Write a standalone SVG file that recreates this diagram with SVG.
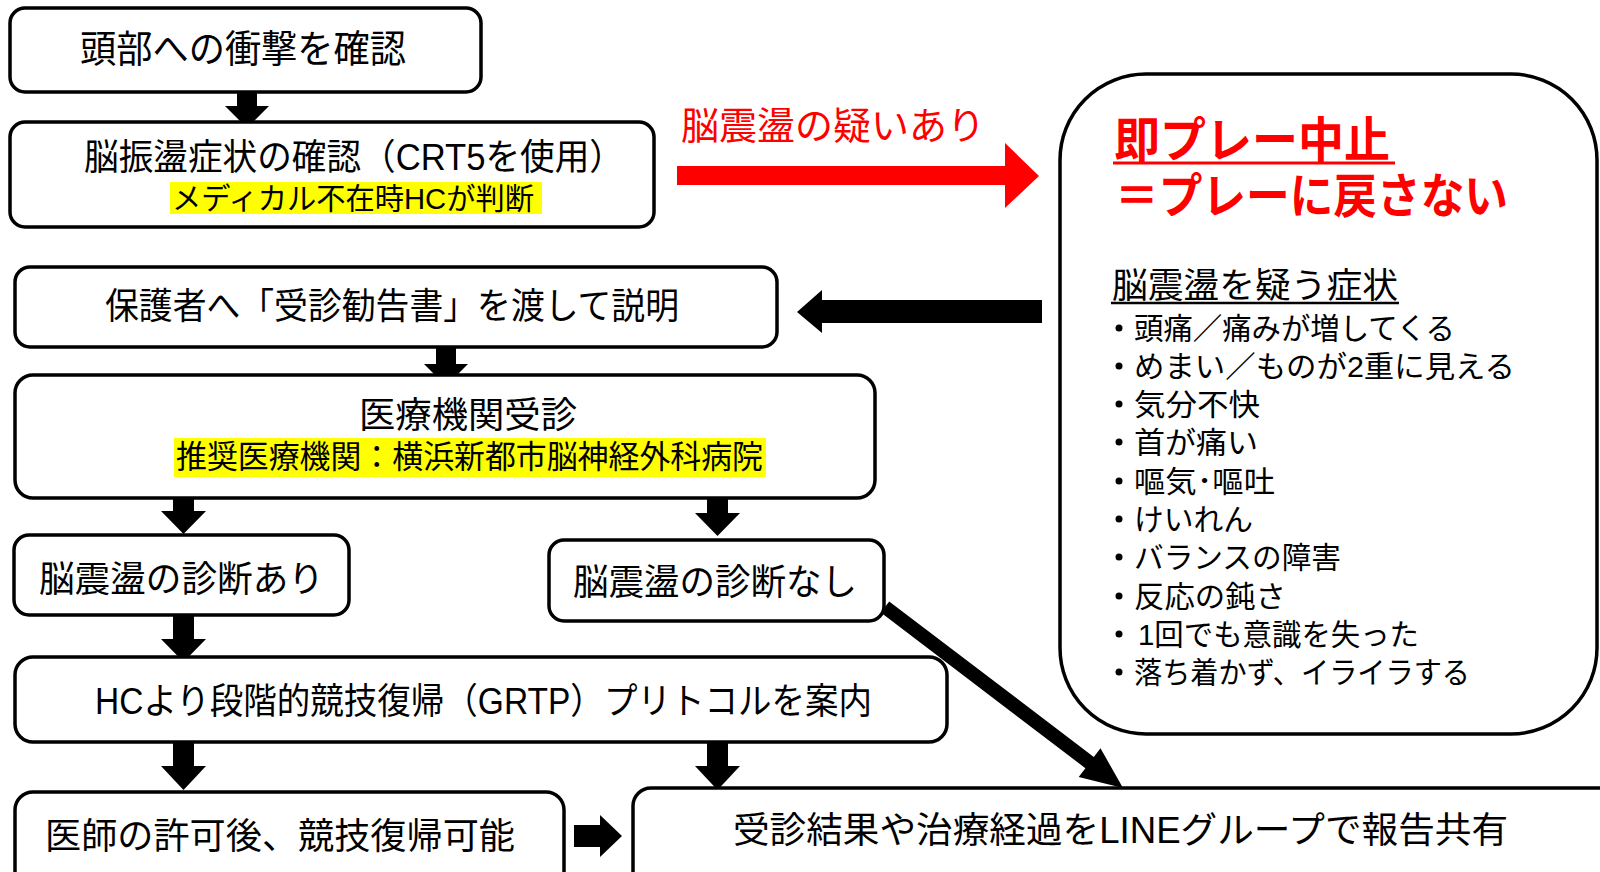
<svg xmlns="http://www.w3.org/2000/svg" width="1600" height="872" viewBox="0 0 1600 872">
<style>
.box{fill:#fff;stroke:#000;stroke-width:3.5}
.t{font-family:"Liberation Sans","Noto Sans CJK JP",sans-serif;font-size:36px;fill:#000;dominant-baseline:central}
.hl{fill:#ffff00}
.li{font-family:"Liberation Sans","Noto Sans CJK JP",sans-serif;font-size:30px;fill:#000;dominant-baseline:central}
.red{fill:#ff0000}
.arr{fill:#000}
</style>
<rect width="1600" height="872" fill="#fff"/>
<g id="connectors">
<polygon class="arr" points="237,84 257,84 257,106 269,106 247,128 225,106 237,106"/>
<polygon class="arr" points="436,340 456,340 456,364 468,364 446,386 424,364 436,364"/>
<polygon class="arr" points="173,487 194,487 194,511 206,511 183.5,534 161,511 173,511"/>
<polygon class="arr" points="707,489 728,489 728,513 740,513 717.5,536 695,513 707,513"/>
<polygon class="arr" points="173,614 194,614 194,639 206,639 183.5,662 161,639 173,639"/>
<polygon class="arr" points="173,742 194,742 194,766 206,766 183.5,790 161,766 173,766"/>
<polygon class="arr" points="707,742 728,742 728,766 740,766 717.5,790 695,766 707,766"/>
<polygon class="arr" points="574,825 600,825 600,815 622,836 600,857 600,847 574,847"/>
<polygon class="arr" points="1042,300 1042,323 822,323 822,333 797,312 822,290 822,300"/>
<polygon class="red" points="677,166 1005,166 1005,143 1039,176 1005,208 1005,185 677,185"/>
<polygon class="arr" points="889.2,601.4 1093.8,757 1100.5,748.3 1123,788 1078.7,776.9 1085.4,768.2 880.8,612.6"/>
<text class="t" x="681" y="126" fill="#ff0000" style="fill:#ff0000;font-size:38px" textLength="304" lengthAdjust="spacingAndGlyphs">脳震盪の疑いあり</text>
</g>
<g id="n1">
<rect class="box" x="10" y="8" width="471" height="84" rx="15"/>
<text class="t" x="80" y="49" style="font-size:38px" textLength="326" lengthAdjust="spacingAndGlyphs">頭部への衝撃を確認</text>
</g>
<g id="n2">
<rect class="box" x="10" y="122" width="644" height="105" rx="15"/>
<text class="t" x="84" y="157" textLength="540" lengthAdjust="spacingAndGlyphs">脳振盪症状の確認（CRT5を使用）</text>
<rect class="hl" x="170" y="182" width="372" height="32"/>
<text class="t" x="172" y="198" style="font-size:30px" textLength="362" lengthAdjust="spacingAndGlyphs">メディカル不在時HCが判断</text>
</g>
<g id="n3">
<rect class="box" x="15" y="267" width="762" height="80" rx="15"/>
<text class="t" x="105" y="306" textLength="574" lengthAdjust="spacingAndGlyphs">保護者へ「受診勧告書」を渡して説明</text>
</g>
<g id="n4">
<rect class="box" x="15" y="375" width="860" height="123" rx="18"/>
<text class="t" x="359" y="415" textLength="218" lengthAdjust="spacingAndGlyphs">医療機関受診</text>
<rect class="hl" x="174" y="438" width="592" height="39"/>
<text class="t" x="176" y="457" style="font-size:32px" textLength="587" lengthAdjust="spacingAndGlyphs">推奨医療機関：横浜新都市脳神経外科病院</text>
</g>
<g id="n5">
<rect class="box" x="14" y="535" width="335" height="80" rx="15"/>
<text class="t" x="39" y="579" textLength="285" lengthAdjust="spacingAndGlyphs">脳震盪の診断あり</text>
</g>
<g id="n6">
<rect class="box" x="549" y="540" width="335" height="81" rx="15"/>
<text class="t" x="573" y="582" textLength="284" lengthAdjust="spacingAndGlyphs">脳震盪の診断なし</text>
</g>
<g id="n7">
<rect class="box" x="15" y="657" width="932" height="85" rx="18"/>
<text class="t" x="95" y="701" textLength="777" lengthAdjust="spacingAndGlyphs">HCより段階的競技復帰（GRTP）プリトコルを案内</text>
</g>
<g id="n8">
<rect class="box" x="15" y="792" width="549" height="110" rx="18"/>
<text class="t" x="45" y="836" textLength="470" lengthAdjust="spacingAndGlyphs">医師の許可後、競技復帰可能</text>
</g>
<g id="n9">
<rect class="box" x="633" y="788" width="1000" height="110" rx="18"/>
<text class="t" x="733" y="830" textLength="775" lengthAdjust="spacingAndGlyphs">受診結果や治療経過をLINEグループで報告共有</text>
</g>
<g id="n10">
<rect class="box" x="1060" y="74" width="537" height="660" rx="86"/>
<text class="t" x="1114" y="140" style="fill:#ff0000;font-size:48px;font-weight:bold" textLength="276" lengthAdjust="spacingAndGlyphs">即プレー中止</text>
<line x1="1113" y1="163" x2="1395" y2="163" stroke="#ff0000" stroke-width="3"/>
<text class="t" x="1115" y="196" style="fill:#ff0000;font-size:48px;font-weight:bold" textLength="393" lengthAdjust="spacingAndGlyphs">＝プレーに戻さない</text>
<text class="t" x="1112" y="285" style="font-size:35px" textLength="286" lengthAdjust="spacingAndGlyphs">脳震盪を疑う症状</text>
<line x1="1111" y1="303" x2="1399" y2="303" stroke="#000" stroke-width="2.5"/>
<g>
<circle cx="1119" cy="328" r="3.5"/><text class="li" x="1134" y="328" textLength="321" lengthAdjust="spacingAndGlyphs">頭痛／痛みが増してくる</text>
<circle cx="1119" cy="366" r="3.5"/><text class="li" x="1134" y="366" textLength="381" lengthAdjust="spacingAndGlyphs">めまい／ものが2重に見える</text>
<circle cx="1119" cy="404" r="3.5"/><text class="li" x="1134" y="404" textLength="126" lengthAdjust="spacingAndGlyphs">気分不快</text>
<circle cx="1119" cy="442" r="3.5"/><text class="li" x="1134" y="442" textLength="124" lengthAdjust="spacingAndGlyphs">首が痛い</text>
<circle cx="1119" cy="481" r="3.5"/><text class="li" x="1134" y="481" textLength="141" lengthAdjust="spacingAndGlyphs">嘔気･嘔吐</text>
<circle cx="1119" cy="519" r="3.5"/><text class="li" x="1134" y="519" textLength="119" lengthAdjust="spacingAndGlyphs">けいれん</text>
<circle cx="1119" cy="557" r="3.5"/><text class="li" x="1134" y="557" textLength="207" lengthAdjust="spacingAndGlyphs">バランスの障害</text>
<circle cx="1119" cy="596" r="3.5"/><text class="li" x="1134" y="596" textLength="152" lengthAdjust="spacingAndGlyphs">反応の鈍さ</text>
<circle cx="1119" cy="634" r="3.5"/><text class="li" x="1138" y="634" textLength="281" lengthAdjust="spacingAndGlyphs">1回でも意識を失った</text>
<circle cx="1119" cy="672" r="3.5"/><text class="li" x="1134" y="672" textLength="336" lengthAdjust="spacingAndGlyphs">落ち着かず、イライラする</text>
</g>
</g>
</svg>
